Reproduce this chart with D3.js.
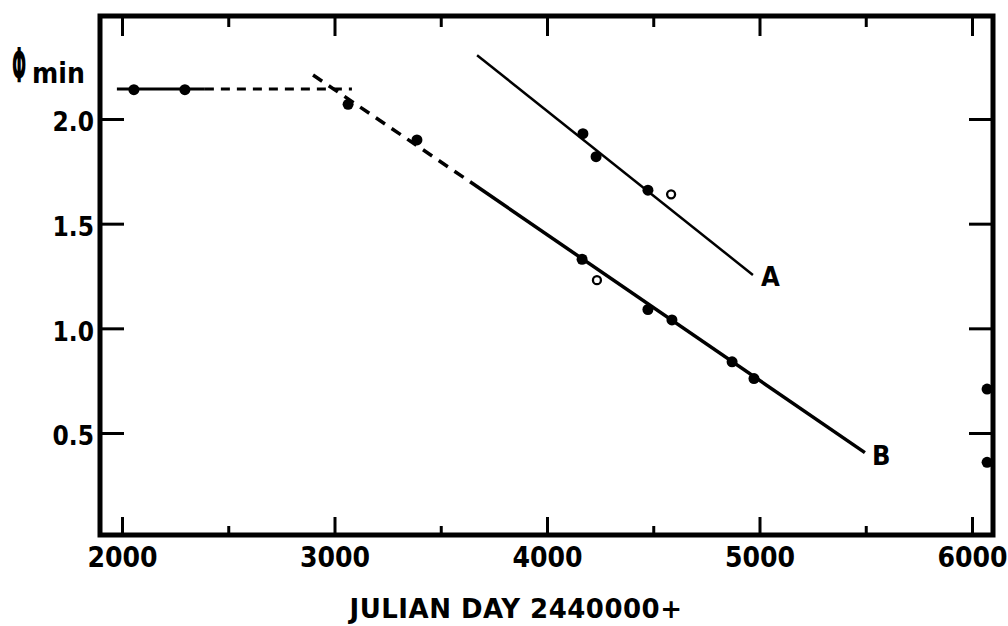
<!DOCTYPE html>
<html>
<head>
<meta charset="utf-8">
<script src="https://cdn.jsdelivr.net/npm/d3@7"></script>
<style>
  body { margin: 0; background: #fff; }
  text { font-family: "DejaVu Sans Condensed", "DejaVu Sans", sans-serif; font-weight: bold; fill: #000; }
</style>
</head>
<body>
<script>
// Chart size
var svgWidth = 1008;
var svgHeight = 626;

// Data (x = Julian day - 2440000, y = phase minimum)
var filledDays   = [2056, 2296, 3064, 3388, 4169, 4231, 4475, 4165, 4475, 4588, 4871, 4974, 6071, 6071];
var filledPhases = [2.14, 2.14, 2.07, 1.90, 1.93, 1.82, 1.66, 1.33, 1.09, 1.04, 0.84, 0.76, 0.71, 0.36];
var openDays     = [4584, 4235];
var openPhases   = [1.64, 1.23];

// Fitted lines
var flatSolid  = [[1976, 2.143], [2390, 2.143]];
var flatDashed = [[2390, 2.143], [3082, 2.143]];
var lineBDashed = [[2899, 2.21], [3638, 1.70]];
var lineBSolid  = [[3638, 1.70], [5496, 0.406]];
var lineA       = [[3671, 2.305], [4969, 1.255]];

// Ticks
var xMajorTicks = [2000, 3000, 4000, 5000, 6000];
var xMinorTicks = [2500, 3500, 4500, 5500];
var yTicks = [0.5, 1.0, 1.5, 2.0];
var yTickLabels = ["0.5", "1.0", "1.5", "2.0"];

var svg = d3.select("body")
  .append("svg")
  .attr("width", svgWidth)
  .attr("height", svgHeight);

var xScale = d3.scaleLinear().domain([2000, 6000]).range([122, 972]);
var yScale = d3.scaleLinear().domain([0.5, 2.0]).range([433, 119]);

// Frame
var frame = { left: 100, right: 993, top: 16, bottom: 535 };
svg.append("rect")
  .attr("x", frame.left)
  .attr("y", frame.top)
  .attr("width", frame.right - frame.left)
  .attr("height", frame.bottom - frame.top)
  .attr("fill", "none")
  .attr("stroke", "#000")
  .attr("stroke-width", 5);

// Bottom axis: inward ticks with labels
var bottomAxis = d3.axisBottom(xScale)
  .tickValues(xMajorTicks)
  .tickSize(-18)
  .tickFormat(d3.format("d"));
var gx = svg.append("g")
  .attr("transform", `translate(0, ${frame.bottom})`)
  .call(bottomAxis);
gx.select(".domain").remove();
gx.selectAll("line").attr("stroke-width", 3);
gx.selectAll("text")
  .attr("y", 12)
  .attr("dy", "0.71em")
  .style("font-size", "28px");

var gxMinor = svg.append("g")
  .attr("transform", `translate(0, ${frame.bottom})`)
  .call(d3.axisBottom(xScale).tickValues(xMinorTicks).tickSize(-9).tickFormat(""));
gxMinor.select(".domain").remove();
gxMinor.selectAll("line").attr("stroke-width", 3);

// Top axis ticks
var gt = svg.append("g")
  .attr("transform", `translate(0, ${frame.top})`)
  .call(d3.axisTop(xScale).tickValues(xMajorTicks).tickSize(-20).tickFormat(""));
gt.select(".domain").remove();
gt.selectAll("line").attr("stroke-width", 3);
var gtMinor = svg.append("g")
  .attr("transform", `translate(0, ${frame.top})`)
  .call(d3.axisTop(xScale).tickValues(xMinorTicks).tickSize(-11).tickFormat(""));
gtMinor.select(".domain").remove();
gtMinor.selectAll("line").attr("stroke-width", 3);

// Left axis
var leftAxis = d3.axisLeft(yScale)
  .tickValues(yTicks)
  .tickSize(-24)
  .tickFormat((d, i) => yTickLabels[i]);
var gy = svg.append("g")
  .attr("transform", `translate(${frame.left}, 0)`)
  .call(leftAxis);
gy.select(".domain").remove();
gy.selectAll("line").attr("stroke-width", 3);
gy.selectAll("text")
  .attr("x", -6)
  .attr("dy", "0.45em")
  .style("font-size", "26px");

// Right axis ticks
var gr = svg.append("g")
  .attr("transform", `translate(${frame.right}, 0)`)
  .call(d3.axisRight(yScale).tickValues(yTicks).tickSize(-24).tickFormat(""));
gr.select(".domain").remove();
gr.selectAll("line").attr("stroke-width", 3);

// Lines
var line = d3.line().x(d => xScale(d[0])).y(d => yScale(d[1]));
function drawLine(data, width, dash) {
  svg.append("path")
    .datum(data)
    .attr("d", line)
    .attr("fill", "none")
    .attr("stroke", "#000")
    .attr("stroke-width", width)
    .attr("stroke-dasharray", dash);
}
drawLine(flatSolid, 3, null);
drawLine(flatDashed, 3, "9,7");
drawLine(lineBDashed, 3.5, "11,8");
drawLine(lineBSolid, 3.5, null);
drawLine(lineA, 2.5, null);

// Filled points
svg.selectAll(".dot")
  .data(filledDays)
  .enter()
  .append("circle")
  .attr("class", "dot")
  .attr("cx", d => xScale(d))
  .attr("cy", (d, i) => yScale(filledPhases[i]))
  .attr("r", 5.5)
  .attr("fill", "#000");

// Open points
svg.selectAll(".open")
  .data(openDays)
  .enter()
  .append("circle")
  .attr("class", "open")
  .attr("cx", d => xScale(d))
  .attr("cy", (d, i) => yScale(openPhases[i]))
  .attr("r", 4)
  .attr("fill", "#fff")
  .attr("stroke", "#000")
  .attr("stroke-width", 2.3);

// Line labels
svg.append("text")
  .attr("x", xScale(lineA[1][0]) + 8)
  .attr("y", yScale(lineA[1][1]) + 11)
  .style("font-size", "27px")
  .text("A");
svg.append("text")
  .attr("x", xScale(lineBSolid[1][0]) + 7)
  .attr("y", yScale(lineBSolid[1][1]) + 12)
  .style("font-size", "27px")
  .text("B");

// Y axis title
svg.append("text")
  .attr("transform", "translate(12, 82) scale(0.62, 1.6)")
  .style("font-size", "30px")
  .text("Φ");
svg.append("text")
  .attr("x", 32)
  .attr("y", 83)
  .style("font-size", "28px")
  .text("min");

// X axis title
svg.append("text")
  .attr("x", 516)
  .attr("y", 618)
  .attr("text-anchor", "middle")
  .style("font-family", "'DejaVu Sans', sans-serif")
  .style("font-size", "26px")
  .style("letter-spacing", "0.5px")
  .text("JULIAN DAY 2440000+");
</script>
</body>
</html>
